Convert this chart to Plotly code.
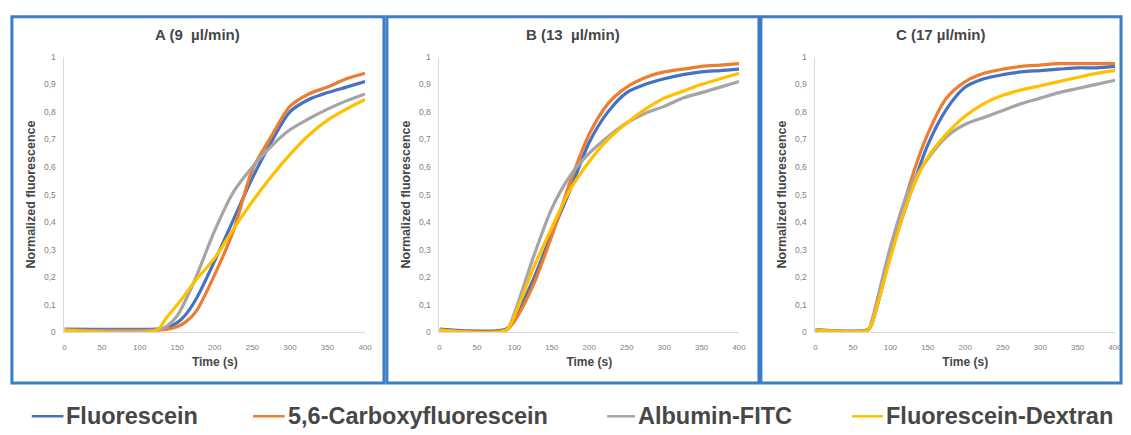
import plotly.graph_objects as go

# ---------------- data ----------------
series_names = ["Fluorescein", "5,6-Carboxyfluorescein", "Albumin-FITC", "Fluorescein-Dextran"]
series_colors = ["#4472C4", "#ED7D31", "#A5A5A5", "#FFC000"]
panel_titles = ["A (9  µl/min)", "B (13  µl/min)", "C (17 µl/min)"]

x_tick_vals = [0, 50, 100, 150, 200, 250, 300, 350, 400]
y_tick_vals = [0, 0.1, 0.2, 0.3, 0.4, 0.5, 0.6, 0.7, 0.8, 0.9, 1.0]
y_tick_text = ["0", "0,1", "0,2", "0,3", "0,4", "0,5", "0,6", "0,7", "0,8", "0,9", "1"]

# Panel A (9 µl/min)
time_a = [0, 123, 135, 150, 160, 175, 200, 225, 250, 275, 300, 325, 350, 375, 400]
a_fluorescein = [0.012, 0.012, 0.015, 0.035, 0.06, 0.12, 0.26, 0.41, 0.56, 0.69, 0.80, 0.845, 0.87, 0.89, 0.91]
a_carboxy     = [0.008, 0.008, 0.010, 0.020, 0.035, 0.075, 0.21, 0.37, 0.59, 0.71, 0.82, 0.865, 0.89, 0.92, 0.94]
a_albumin     = [0.008, 0.008, 0.020, 0.060, 0.11, 0.20, 0.37, 0.51, 0.60, 0.675, 0.735, 0.775, 0.81, 0.84, 0.865]
a_dextran     = [0.008, 0.008, 0.050, 0.100, 0.135, 0.19, 0.27, 0.375, 0.475, 0.565, 0.645, 0.715, 0.77, 0.81, 0.845]

# Panel B (13 µl/min)
time_b = [0, 89, 100, 125, 150, 175, 200, 225, 250, 275, 300, 325, 350, 375, 400]
b_fluorescein = [0.012, 0.012, 0.05, 0.19, 0.36, 0.52, 0.69, 0.80, 0.87, 0.90, 0.92, 0.935, 0.945, 0.95, 0.955]
b_carboxy     = [0.008, 0.008, 0.04, 0.17, 0.35, 0.55, 0.72, 0.83, 0.89, 0.925, 0.945, 0.955, 0.965, 0.97, 0.975]
b_albumin     = [0.008, 0.008, 0.07, 0.27, 0.45, 0.57, 0.65, 0.71, 0.76, 0.795, 0.82, 0.85, 0.87, 0.89, 0.91]
b_dextran     = [0.008, 0.008, 0.06, 0.23, 0.38, 0.52, 0.62, 0.70, 0.76, 0.81, 0.85, 0.875, 0.90, 0.92, 0.94]

# Panel C (17 µl/min)
time_c = [0, 70, 75, 100, 125, 150, 175, 200, 225, 250, 275, 300, 325, 350, 375, 400]
c_fluorescein = [0.010, 0.010, 0.03, 0.28, 0.49, 0.68, 0.81, 0.89, 0.92, 0.935, 0.945, 0.95, 0.955, 0.96, 0.96, 0.965]
c_carboxy     = [0.008, 0.008, 0.03, 0.28, 0.53, 0.72, 0.85, 0.91, 0.94, 0.955, 0.965, 0.97, 0.975, 0.975, 0.975, 0.975]
c_albumin     = [0.008, 0.008, 0.04, 0.31, 0.52, 0.63, 0.71, 0.755, 0.78, 0.805, 0.83, 0.85, 0.87, 0.885, 0.90, 0.915]
c_dextran     = [0.008, 0.008, 0.03, 0.27, 0.49, 0.635, 0.72, 0.785, 0.83, 0.86, 0.88, 0.895, 0.91, 0.925, 0.94, 0.95]

panels = [
    (time_a, [a_fluorescein, a_carboxy, a_albumin, a_dextran]),
    (time_b, [b_fluorescein, b_carboxy, b_albumin, b_dextran]),
    (time_c, [c_fluorescein, c_carboxy, c_albumin, c_dextran]),
]

# ---------------- layout helpers ----------------
W, H = 1131, 435
def px(x):
    return x / W
def py(y):
    return (H - y) / H

FONT = "Liberation Sans, Arial, sans-serif"
TEXT_DARK = "#474747"
TICK_GREY = "#7f7f7f"

plot_x = [(63, 366), (441, 743), (820, 1122)]
plot_y = (53, 335)
box_x = [(10, 385), (388, 763), (765, 1128)]
box_y = (12, 387)

fig = go.Figure()

for p, (times, values) in enumerate(panels):
    ax = "" if p == 0 else str(p + 1)
    for name, color, vals in zip(series_names, series_colors, values):
        fig.add_trace(go.Scatter(
            x=times, y=vals, mode="lines", name=name,
            line=dict(color=color, width=3.2, shape="spline", smoothing=0.8),
            xaxis="x" + ax, yaxis="y" + ax, showlegend=False,
        ))

layout = dict(
    width=W, height=H,
    margin=dict(l=0, r=0, t=0, b=0),
    paper_bgcolor="white", plot_bgcolor="white",
    showlegend=False,
    font=dict(family=FONT, color=TEXT_DARK),
)

for p in range(3):
    ax = "" if p == 0 else str(p + 1)
    x0, x1 = plot_x[p]
    layout["xaxis" + ax] = dict(
        domain=[px(x0), px(x1)], anchor="y" + ax, range=[0, 400],
        tickvals=x_tick_vals, ticktext=[str(v) for v in x_tick_vals],
        showgrid=False, zeroline=False, showline=True, linecolor="#d9d9d9", linewidth=1,
        ticks="", ticklabelstandoff=7,
        tickfont=dict(family=FONT, size=8, color=TICK_GREY),
        title=dict(text="<b>Time (s)</b>", standoff=6,
                   font=dict(family=FONT, size=12, color=TEXT_DARK)),
    )
    layout["yaxis" + ax] = dict(
        domain=[py(plot_y[1]), py(plot_y[0])], anchor="x" + ax, range=[0, 1],
        tickvals=y_tick_vals, ticktext=y_tick_text,
        showgrid=False, zeroline=False, showline=True, linecolor="#d9d9d9", linewidth=1,
        ticks="", ticklabelstandoff=6,
        tickfont=dict(family=FONT, size=8.5, color=TICK_GREY),
        title=dict(text="<b>Normalized fluorescence</b>", standoff=5,
                   font=dict(family=FONT, size=12.5, color=TEXT_DARK)),
    )

shapes = []
annotations = []
for p in range(3):
    bx0, bx1 = box_x[p]
    shapes.append(dict(type="rect", xref="paper", yref="paper",
                       x0=px(bx0), x1=px(bx1), y0=py(box_y[1]), y1=py(box_y[0]),
                       line=dict(color="#3C7DC4", width=3), fillcolor="rgba(0,0,0,0)"))
    annotations.append(dict(text="<b>" + panel_titles[p] + "</b>", xref="paper", yref="paper",
                            x=px((bx0 + bx1) / 2), y=py(30), xanchor="center", yanchor="middle",
                            showarrow=False, font=dict(family=FONT, size=15, color=TEXT_DARK)))

# custom legend row along the bottom
legend_line_x = [(30, 62), (253, 285), (610, 638), (857, 888)]
legend_y = 421
for (lx0, lx1), name, color in zip(legend_line_x, series_names, series_colors):
    shapes.append(dict(type="line", xref="paper", yref="paper",
                       x0=px(lx0), x1=px(lx1), y0=py(legend_y), y1=py(legend_y),
                       line=dict(color=color, width=2.5)))
    annotations.append(dict(text="<b>" + name + "</b>", xref="paper", yref="paper",
                            x=px(lx1 + 1), y=py(legend_y), xanchor="left", yanchor="middle",
                            showarrow=False, font=dict(family=FONT, size=23.5, color=TEXT_DARK)))

layout["shapes"] = shapes
layout["annotations"] = annotations
fig.update_layout(**layout)

fig.write_html("out.html", config={"displayModeBar": False},
               post_script="document.body.style.margin='0';document.body.style.overflow='hidden';")
